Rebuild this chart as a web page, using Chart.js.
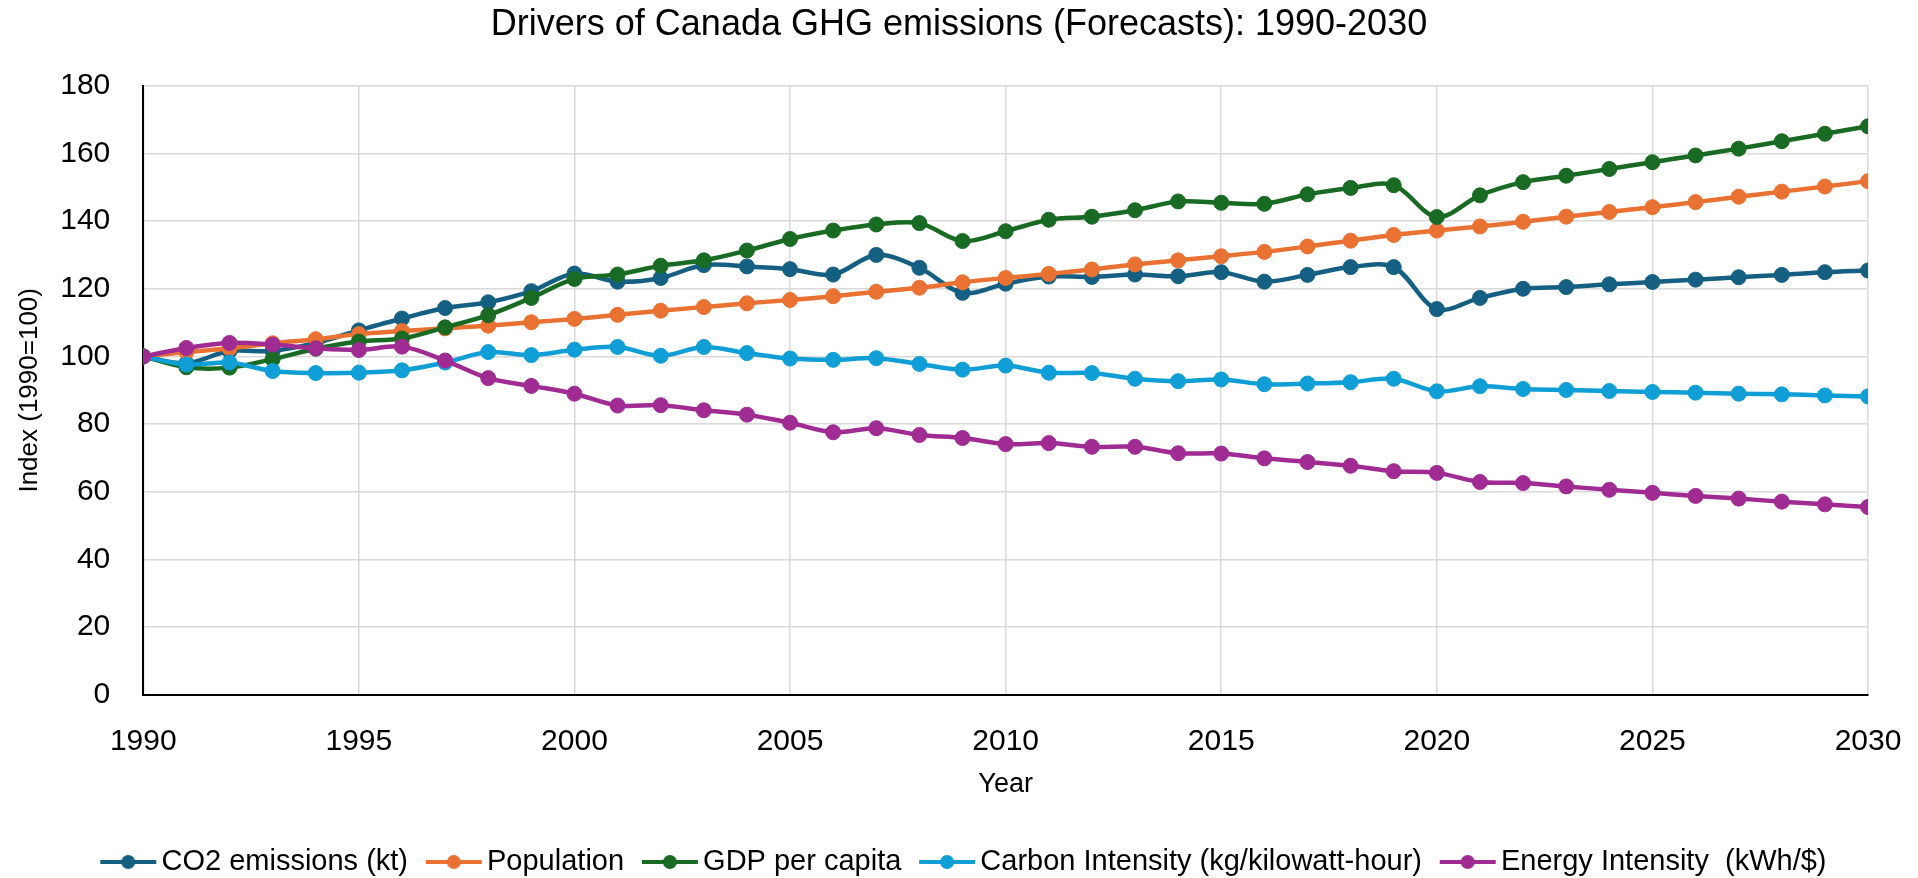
<!DOCTYPE html>
<html>
<head>
<meta charset="utf-8">
<script src="https://cdn.jsdelivr.net/npm/chart.js@4.4.1/dist/chart.umd.min.js"></script>
<style>
  html, body { margin: 0; padding: 0; background: #fff; }
  #wrap { width: 1918px; height: 878px; }
</style>
</head>
<body>
<div id="wrap"><canvas id="myChart" width="1918" height="878"></canvas></div>
<script>
var years = [];
for (var y = 1990; y <= 2030; y++) years.push(y);

var co2 = [100, 98, 101.6, 101.6, 104, 107.7, 111.2, 114.3, 116, 119.3,
  124.5, 122.1, 123.2, 127, 126.6, 125.8, 124.2, 130, 126.2, 118.8,
  121.5, 123.6, 123.5, 124.2, 123.7, 124.9, 122.1, 124.1, 126.4, 126.4,
  114, 117.3, 120, 120.5, 121.3, 122, 122.7, 123.4, 124.1, 124.9, 125.4];

var population = [100, 101.3, 102.4, 103.9, 105.1, 106.6, 107.5, 108.3, 109.1, 110.1,
  111.1, 112.3, 113.5, 114.6, 115.7, 116.7, 117.8, 119.1, 120.3, 121.9,
  123.2, 124.4, 125.7, 127.2, 128.4, 129.6, 130.9, 132.5, 134.2, 135.9,
  137.2, 138.4, 139.8, 141.3, 142.7, 144.1, 145.6, 147.2, 148.7, 150.2, 151.8];

var gdpPerCapita = [100, 96.8, 96.7, 99.2, 102.3, 104.4, 105.3, 108.6, 112.2, 117.3,
  122.9, 124.2, 126.8, 128.4, 131.3, 134.7, 137.2, 139, 139.4, 134.1,
  137, 140.4, 141.3, 143.2, 145.8, 145.4, 145.1, 147.9, 149.8, 150.6,
  141.2, 147.6, 151.5, 153.4, 155.4, 157.4, 159.4, 161.4, 163.6, 165.8, 168];

var carbonIntensity = [100, 97.6, 98.2, 95.7, 95.1, 95.2, 95.9, 98.2, 101.3, 100.4,
  102, 102.8, 100.2, 102.8, 101, 99.4, 99, 99.5, 97.8, 96.1,
  97.3, 95.2, 95.1, 93.4, 92.7, 93.2, 91.8, 92, 92.4, 93.4,
  89.7, 91.2, 90.4, 90.1, 89.8, 89.5, 89.3, 89, 88.8, 88.5, 88.2];

var energyIntensity = [100, 102.5, 104, 103.5, 102.4, 101.9, 102.9, 98.8, 93.6, 91.3,
  89, 85.5, 85.6, 84.1, 82.8, 80.4, 77.6, 78.8, 76.8, 75.9,
  74.1, 74.4, 73.3, 73.3, 71.4, 71.3, 69.9, 68.8, 67.7, 66.1,
  65.6, 62.9, 62.6, 61.6, 60.6, 59.7, 58.8, 58, 57.1, 56.3, 55.5];

var seriesNames = ['CO2 emissions (kt)', 'Population', 'GDP per capita',
  'Carbon Intensity (kg/kilowatt-hour)', 'Energy Intensity  (kWh/$)'];
var seriesColors = ['#156082', '#E97132', '#196B24', '#0F9ED5', '#A02B93'];
var seriesData = [co2, population, gdpPerCapita, carbonIntensity, energyIntensity];

var fontFam = '"Liberation Sans", Arial, sans-serif';

// line + dot picture for the legend (left part is empty on purpose)
function legendIcon(color) {
  var c = document.createElement('canvas');
  c.width = 76; c.height = 18;
  var g = c.getContext('2d');
  g.strokeStyle = color;
  g.lineWidth = 4;
  g.beginPath();
  g.moveTo(19, 9); g.lineTo(75, 9);
  g.stroke();
  g.fillStyle = color;
  g.beginPath();
  g.arc(47, 9, 7, 0, Math.PI * 2);
  g.fill();
  return c;
}

var datasets = [];
for (var i = 0; i < seriesNames.length; i++) {
  datasets.push({
    label: seriesNames[i],
    data: seriesData[i],
    borderColor: seriesColors[i],
    backgroundColor: seriesColors[i],
    pointBackgroundColor: seriesColors[i],
    pointBorderColor: seriesColors[i],
    borderWidth: 4.5,
    pointRadius: 7.5,
    pointBorderWidth: 1,
    tension: 0.33,
    order: seriesNames.length - i,
    icon: legendIcon(seriesColors[i])
  });
}

const ctx = document.getElementById('myChart');
var chart = new Chart(ctx, {
  type: 'line',
  data: {
    labels: years,
    datasets: datasets
  },
  options: {
    responsive: false,
    animation: false,
    layout: { padding: { left: 0, right: 0, top: 0, bottom: -8.5 } },
    plugins: {
      title: {
        display: true,
        text: 'Drivers of Canada GHG emissions (Forecasts): 1990-2030',
        color: '#000',
        font: { family: fontFam, size: 36, weight: 'normal' },
        padding: { top: 3.5, bottom: 39 }
      },
      legend: {
        position: 'bottom',
        labels: {
          color: '#000',
          font: { family: fontFam, size: 29 },
          usePointStyle: true,
          pointStyleWidth: 55.5,
          padding: 9,
          sort: function(a, b) { return a.datasetIndex - b.datasetIndex; },
          generateLabels: function(ch) {
            var items = Chart.defaults.plugins.legend.labels.generateLabels(ch);
            items.forEach(function(it) {
              it.pointStyle = ch.data.datasets[it.datasetIndex].icon;
            });
            return items;
          }
        }
      },
      tooltip: { enabled: false }
    },
    scales: {
      x: {
        type: 'linear',
        min: 1990,
        max: 2030,
        title: {
          display: true,
          text: 'Year',
          color: '#000',
          font: { family: fontFam, size: 27 },
          padding: { top: -8, bottom: 38 }
        },
        ticks: {
          stepSize: 5,
          color: '#000',
          padding: 16.6,
          font: { family: fontFam, size: 30 },
          callback: function(v) { return String(v); }
        },
        grid: { color: '#d9d9d9', lineWidth: 1.5, drawTicks: true, tickLength: 12, tickColor: 'rgba(0,0,0,0)' },
        border: { color: '#000', width: 2 }
      },
      y: {
        min: 0,
        max: 180,
        title: {
          display: true,
          text: 'Index (1990=100)',
          color: '#000',
          font: { family: fontFam, size: 26 },
          padding: { top: 14.5, bottom: 14.5 }
        },
        ticks: {
          stepSize: 20,
          color: '#000',
          padding: 0,
          font: { family: fontFam, size: 30 }
        },
        grid: { color: '#d9d9d9', lineWidth: 1.5, drawTicks: true, tickLength: 33, tickColor: 'rgba(0,0,0,0)' },
        border: { color: '#000', width: 2 }
      }
    }
  }
});
</script>
</body>
</html>
